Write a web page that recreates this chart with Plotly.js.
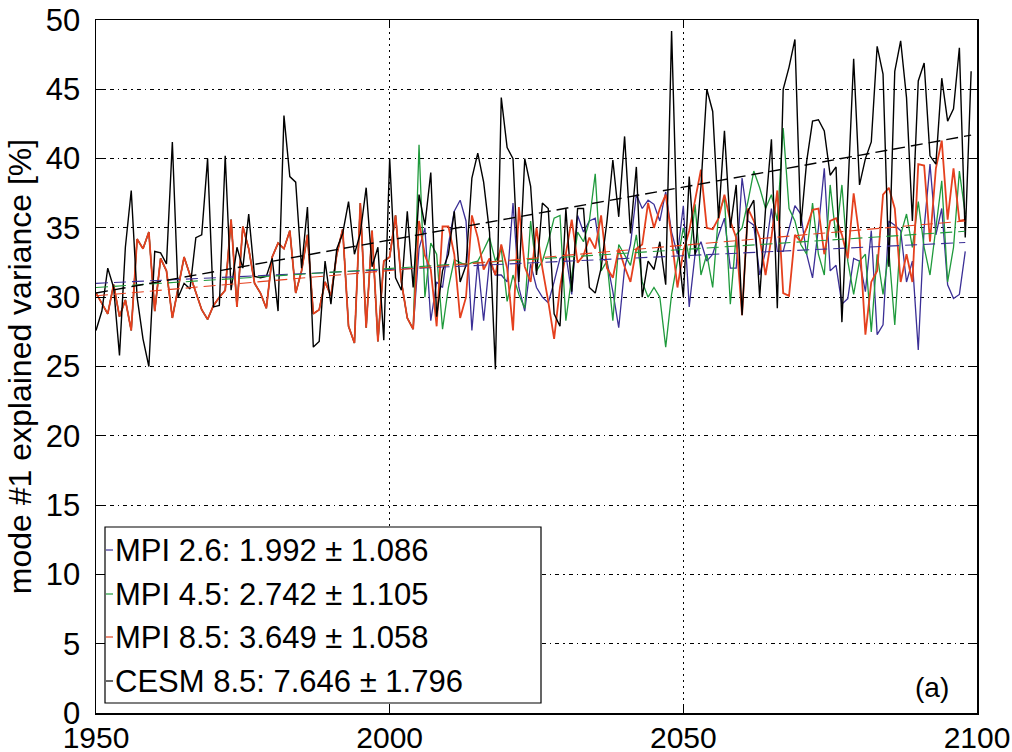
<!DOCTYPE html>
<html>
<head>
<meta charset="utf-8">
<script src="https://cdn.plot.ly/plotly-3.0.1.min.js"></script>
<style>
  html, body { margin: 0; padding: 0; background: #fff; }
  #chart { width: 1012px; height: 752px; }
</style>
</head>
<body>
<div id="chart"></div>
<script>
// Mode #1 explained variance [%], yearly values.

// MPI-ESM historical run, 1950-2004 (shared start of all MPI scenarios)
const mpiHistStart = 1950;
const mpiHist = [
  30.3, 29.5, 28.8, 30.9, 28.6, 29.8, 27.6, 34.2, 33.5, 34.7,
  29.0, 32.8, 31.9, 28.5, 30.6, 32.9, 31.6, 30.3, 29.1, 28.4,
  29.4, 30.0, 30.5, 35.6, 29.3, 35.1, 33.5, 31.0, 30.3, 29.2,
  32.9, 33.9, 33.5, 34.8, 30.3, 31.9, 34.5, 28.8, 29.1, 31.1,
  30.1, 33.1, 34.9, 27.9, 26.7, 36.8, 27.8, 34.8, 26.8, 32.6,
  32.9, 35.9, 31.1, 28.5, 27.7
];

// MPI-ESM scenario runs, 2005-2098
const scenarioStart = 2005;
const mpiRcp26 = [
  33.5, 35.0, 28.3, 31.1, 30.7, 33.8, 36.2, 37.0, 35.5, 27.6,
  32.6, 28.3, 32.6, 31.6, 31.6, 31.1, 36.8, 30.7, 29.0, 32.4,
  30.7, 30.0, 29.6, 31.1, 32.8, 33.1, 30.2, 35.9, 34.7, 35.5,
  35.7, 32.8, 32.6, 30.4, 27.8, 32.1, 33.8, 37.4, 36.4, 37.0,
  36.7, 35.5, 37.6, 34.7, 33.1,
  36.6, 29.3, 33.1, 34.0, 32.6, 33.1, 34.5, 35.7, 32.1, 32.1,
  38.6, 35.5, 35.2, 31.6, 33.3, 36.4, 33.3, 33.3, 35.0, 36.6,
  36.0, 33.1, 31.4, 35.0, 39.3,
  31.9, 32.3, 29.5, 29.9, 32.8, 32.6, 30.4, 34.8, 27.3, 28.0,
  35.5, 35.2, 34.8, 31.1, 32.6, 26.2, 35.0, 39.6, 34.5, 36.4,
  30.9, 29.9, 30.2, 33.3
];
const mpiRcp45 = [
  41.0, 30.0, 33.9, 33.1, 27.7, 30.7, 32.7, 32.5, 32.3, 32.5,
  32.6, 33.4, 34.3, 32.6, 33.5, 29.7, 31.6, 30.2, 29.2, 35.5,
  31.9, 32.6, 34.0, 35.7, 35.9, 28.3, 31.6, 34.7, 34.0, 35.5,
  38.9, 31.9, 32.6, 28.3, 33.8, 33.1, 32.3, 34.5, 31.1, 30.0,
  30.7, 30.0, 26.4, 30.2, 32.6,
  35.0, 32.8, 36.7, 31.6, 33.1, 30.7, 36.0, 37.2, 29.5, 34.5,
  35.0, 36.9, 39.1, 37.9, 36.4, 37.4, 35.5, 42.2, 36.4, 35.5,
  33.8, 33.1, 36.8, 33.1, 31.6,
  38.1, 34.3, 38.1, 32.6, 30.2, 32.6, 33.1, 27.5, 33.1, 30.2,
  33.3, 28.0, 34.5, 36.0, 33.6, 36.9, 33.6, 31.6, 35.0, 38.4,
  31.1, 33.6, 39.1, 36.0
];
const mpiRcp85 = [
  35.5, 33.0, 32.0, 27.9, 35.1, 35.1, 33.1, 28.5, 30.0, 35.9,
  34.3, 32.0, 32.8, 31.6, 33.8, 32.1, 27.6, 36.5, 32.2, 31.1,
  35.0, 32.1, 29.7, 27.0, 30.7, 33.1, 35.6, 32.5, 33.0, 34.3,
  33.5, 35.9, 32.1, 31.4, 33.5, 32.2, 31.1, 33.5, 33.8, 36.8,
  35.0, 36.4, 37.4, 34.3, 30.7, 33.3, 34.8, 37.0, 39.2, 35.0,
  34.9, 35.7, 37.4, 35.5, 34.3, 28.7, 36.4, 35.5, 34.3, 31.6,
  34.3, 37.7, 30.3, 30.1, 34.5, 34.0, 35.0, 36.3, 36.4, 33.1,
  35.5, 35.7, 34.5, 32.8, 37.5, 34.3, 27.3, 31.1, 31.9, 37.4,
  37.9, 36.4, 31.1, 33.1, 31.1, 39.6, 39.5, 34.0, 39.3, 41.3,
  35.6, 39.3, 35.5, 35.6
];

// CESM RCP8.5, 1950-2099
const cesmStart = 1950;
const cesm85 = [
  27.6, 29.0, 32.1, 30.7, 25.8, 33.6, 37.7, 30.0, 27.0, 25.0,
  33.3, 33.2, 32.4, 41.2, 30.0, 31.0, 30.6, 34.3, 34.5, 40.0,
  29.3, 29.4, 40.2, 30.5, 33.6,
  32.1, 36.0, 31.5, 31.4, 31.5, 32.8, 29.0, 43.1, 38.7, 38.3,
  32.1, 36.5, 26.4, 26.8, 32.6, 29.5, 33.5, 34.6, 36.9, 33.1,
  34.6, 37.9, 32.2, 33.6, 26.9,
  40.0, 31.4, 30.5, 36.2, 30.7, 37.4, 35.2, 39.0, 28.6, 31.9,
  33.1, 36.2, 31.1, 32.3, 38.6, 40.4, 38.3, 34.7, 24.8, 44.4,
  40.8, 40.0, 31.1, 40.0, 38.0, 31.6,
  36.8, 36.4, 28.8, 27.9, 36.4, 30.4, 36.4, 36.4, 30.7, 30.3,
  32.1, 35.5, 39.9, 35.8, 41.6, 34.6, 39.4, 30.0, 32.6, 32.0,
  34.0, 30.9, 49.2,
  34.0, 30.0, 38.7, 33.0, 38.0, 45.0, 43.4, 35.7, 42.0, 35.0,
  38.1, 28.7, 36.2, 37.0, 30.0, 36.4, 41.4, 29.2, 45.0, 46.6,
  48.6, 35.1, 39.8, 42.7, 42.8,
  42.0, 38.8, 39.4, 28.2, 37.5, 47.2, 38.1, 40.0, 41.2, 48.1,
  46.1, 32.2, 46.3, 48.5, 44.4, 35.5, 45.6, 46.9, 40.2, 39.6,
  45.8, 42.7, 43.6, 48.0, 34.3, 46.3
];

// Linear trends: slope and its error in % per century, trend value at 1950
const seriesNames  = ['MPI 2.6', 'MPI 4.5', 'MPI 8.5', 'CESM 8.5'];
const seriesColors = ['#3b2f96', '#1f9a3c', '#e5401e', '#000000'];
const trendSlopes  = [1.992, 2.742, 3.649, 7.646];
const trendErrors  = [1.086, 1.105, 1.058, 1.796];
const trendAt1950  = [31.0, 30.7, 30.1, 30.3];

// x and y tick labels
const xTicks = [1950, 2000, 2050, 2100];
const yTicks = [0, 5, 10, 15, 20, 25, 30, 35, 40, 45, 50];

function yearsFrom(start, n) {
  const out = [];
  for (let i = 0; i < n; i++) out.push(start + i);
  return out;
}

const mpiSeries = [mpiRcp26, mpiRcp45, mpiRcp85].map(s => mpiHist.concat(s));
const mpiYears = yearsFrom(mpiHistStart, mpiHist.length + mpiRcp26.length);
const cesmYears = yearsFrom(cesmStart, cesm85.length);

const allY = [mpiSeries[0], mpiSeries[1], mpiSeries[2], cesm85];
const allX = [mpiYears, mpiYears, mpiYears, cesmYears];
const lineWidths = [1.3, 1.3, 1.8, 1.4];
const trendWidths = [1.1, 1.1, 1.1, 1.4];

const traces = [];
for (let k = 0; k < 4; k++) {
  traces.push({
    x: allX[k], y: allY[k], type: 'scatter', mode: 'lines',
    name: seriesNames[k], showlegend: false, hoverinfo: 'skip',
    line: { color: seriesColors[k], width: lineWidths[k] }
  });
}
// trend lines over each series' full period
for (let k = 0; k < 4; k++) {
  const x0 = allX[k][0], x1 = allX[k][allX[k].length - 1];
  const y0 = trendAt1950[k] + trendSlopes[k] * (x0 - 1950) / 100;
  const y1 = trendAt1950[k] + trendSlopes[k] * (x1 - 1950) / 100;
  traces.push({
    x: [x0, x1], y: [y0, y1], type: 'scatter', mode: 'lines',
    showlegend: false, hoverinfo: 'skip',
    line: { color: seriesColors[k], width: trendWidths[k], dash: '12px,6px' }
  });
}

// plot-area geometry in pixels, used to place the legend box
const W = 1012, H = 752;
const M = { l: 96, r: 35, t: 20, b: 39 };
const pw = W - M.l - M.r, ph = H - M.t - M.b;
const px = v => (v - M.l) / pw;
const py = v => (H - M.b - v) / ph;

const shapes = [{
  type: 'rect', xref: 'paper', yref: 'paper',
  x0: px(105), x1: px(541), y0: py(703), y1: py(527),
  line: { color: '#000', width: 1.2 }, fillcolor: '#fff', layer: 'above'
}];
const annotations = [];
const rowY = [550, 594, 637, 681];
for (let k = 0; k < 4; k++) {
  shapes.push({
    type: 'line', xref: 'paper', yref: 'paper',
    x0: px(106), x1: px(113), y0: py(rowY[k]), y1: py(rowY[k]),
    line: { color: seriesColors[k], width: 1.2 }, layer: 'above'
  });
  annotations.push({
    xref: 'paper', yref: 'paper', x: px(113), y: py(rowY[k]),
    xanchor: 'left', yanchor: 'middle', showarrow: false,
    text: seriesNames[k] + ': ' + trendSlopes[k].toFixed(3) + ' \u00b1 ' + trendErrors[k].toFixed(3),
    font: { size: 31, color: '#000' }
  });
}
annotations.push({
  xref: 'paper', yref: 'paper', x: px(951), y: py(687),
  xanchor: 'right', yanchor: 'middle', showarrow: false,
  text: '(a)', font: { size: 28, color: '#000' }
});

const layout = {
  width: W, height: H,
  margin: M,
  paper_bgcolor: '#fff', plot_bgcolor: '#fff',
  font: { family: '"Liberation Sans", Arial, sans-serif', size: 31, color: '#000' },
  showlegend: false,
  xaxis: {
    range: [1950, 2100], tickmode: 'array', tickvals: xTicks,
    ticktext: xTicks.map(String),
    ticks: 'inside', ticklen: 8, tickwidth: 1, tickcolor: '#000',
    showline: true, linecolor: '#000', linewidth: 1.5, mirror: 'allticks',
    showgrid: true, gridcolor: '#000', gridwidth: 1, griddash: '2px,4px',
    zeroline: false, ticklabelstandoff: -3,
    tickfont: { size: 30 }
  },
  yaxis: {
    range: [0, 50], tickmode: 'array', tickvals: yTicks,
    ticktext: yTicks.map(String),
    ticks: 'inside', ticklen: 8, tickwidth: 1, tickcolor: '#000',
    showline: true, linecolor: '#000', linewidth: 1.5, mirror: 'allticks',
    showgrid: true, gridcolor: '#000', gridwidth: 1, griddash: '4px,4px,1.5px,4px',
    zeroline: false, ticklabelstandoff: 8,
    tickfont: { size: 31 },
    title: { text: 'mode #1 explained variance [%]', font: { size: 32 }, standoff: 4 }
  },
  shapes: shapes,
  annotations: annotations
};

Plotly.newPlot('chart', traces, layout, { staticPlot: true, displayModeBar: false });
</script>
</body>
</html>
